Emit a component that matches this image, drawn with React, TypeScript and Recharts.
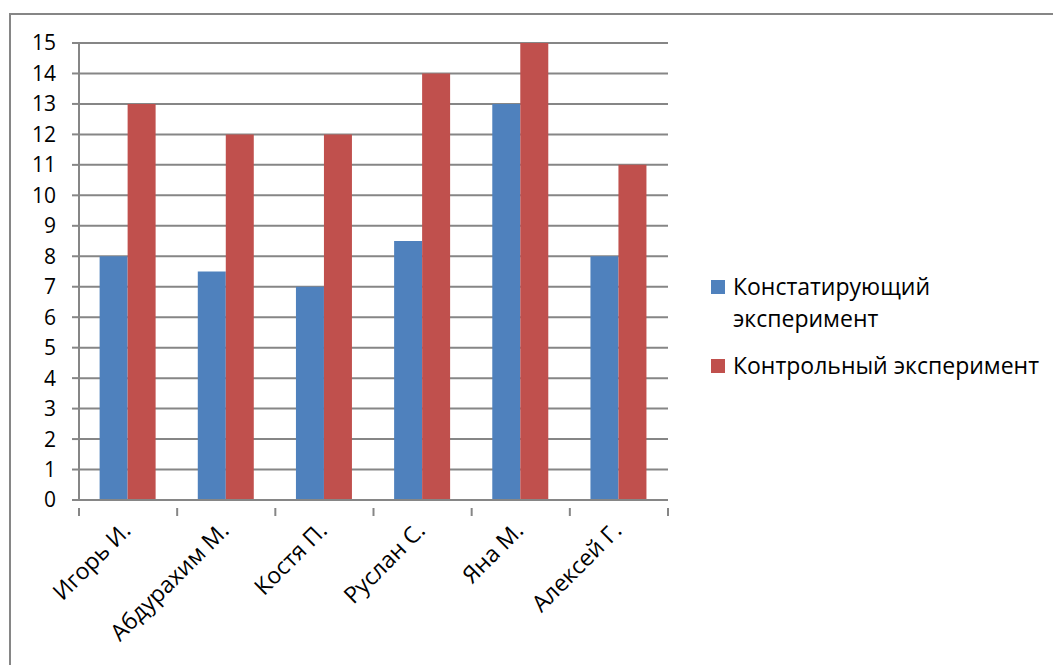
import { BarChart, Bar, XAxis, YAxis, CartesianGrid } from 'recharts';

const names = ['Игорь И.', 'Абдурахим М.', 'Костя П.', 'Руслан С.', 'Яна М.', 'Алексей Г.'];
const ascertaining = [8, 7.5, 7, 8.5, 13, 8];
const control = [13, 12, 12, 14, 15, 11];
const yTicks = [0, 1, 2, 3, 4, 5, 6, 7, 8, 9, 10, 11, 12, 13, 14, 15];

const seriesNames = ['Констатирующий эксперимент', 'Контрольный эксперимент'];
const colors = ['#4F81BD', '#C0504D'];

const data = names.map((name, i) => ({
  name,
  ascertaining: ascertaining[i],
  control: control[i]
}));

const FONT = '"Open Sans", sans-serif';
const TICK_SIZE = 21;
const LABEL_SIZE = 23;
const AXIS = '#868686';
const CHART_W = 1042;
const CHART_H = 650;
const PLOT_LEFT = 68;
const PLOT_RIGHT = 657;
const BAND = (PLOT_RIGHT - PLOT_LEFT) / names.length;

// category labels sit at 45°, with Excel-style ticks between categories
function CategoryTick(props: any) {
  const { x, y, payload, index } = props;
  const tx = x + 4;
  const ty = y + 24;
  return (
    <g>
      <line x1={x - BAND / 2} y1={y} x2={x - BAND / 2} y2={y + 8} stroke={AXIS} strokeWidth={2} />
      {index === names.length - 1 && (
        <line x1={x + BAND / 2} y1={y} x2={x + BAND / 2} y2={y + 8} stroke={AXIS} strokeWidth={2} />
      )}
      <text
        x={tx}
        y={ty}
        transform={`rotate(-45, ${tx}, ${ty})`}
        textAnchor="end"
        fontFamily={FONT}
        fontSize={LABEL_SIZE}
        fill="#000"
      >
        {payload.value}
      </text>
    </g>
  );
}

function LegendBox() {
  const swatch = (c: string) => (
    <span style={{ width: 14, height: 14, background: c, marginTop: 10, marginRight: 8, flex: 'none' }} />
  );
  return (
    <div
      style={{
        position: 'absolute',
        left: 700,
        top: 255,
        fontFamily: FONT,
        fontSize: LABEL_SIZE,
        color: '#000',
        lineHeight: '32px'
      }}
    >
      <div style={{ display: 'flex', alignItems: 'flex-start' }}>
        {swatch(colors[0])}
        <span>Констатирующий<br />эксперимент</span>
      </div>
      <div style={{ display: 'flex', alignItems: 'flex-start', marginTop: 15 }}>
        {swatch(colors[1])}
        <span style={{ whiteSpace: 'nowrap' }}>{seriesNames[1]}</span>
      </div>
    </div>
  );
}

export default function App() {
  return (
    <div
      style={{
        position: 'absolute',
        left: 9,
        top: 13,
        width: 1044,
        height: 652,
        borderLeft: `2px solid ${AXIS}`,
        borderTop: `2px solid ${AXIS}`,
        background: '#fff'
      }}
    >
      <BarChart
        width={CHART_W}
        height={CHART_H}
        data={data}
        margin={{ top: 28, right: CHART_W - PLOT_RIGHT, bottom: 15, left: 0 }}
        barCategoryGap="21%"
        barGap={0}
      >
        <CartesianGrid vertical={false} stroke={AXIS} strokeWidth={2} />
        <XAxis
          dataKey="name"
          interval={0}
          height={150}
          axisLine={{ stroke: AXIS, strokeWidth: 2 }}
          tickLine={false}
          tick={<CategoryTick />}
        />
        <YAxis
          domain={[0, 15]}
          ticks={yTicks}
          interval={0}
          width={PLOT_LEFT}
          tickSize={7}
          tickMargin={16}
          axisLine={{ stroke: AXIS, strokeWidth: 2 }}
          tickLine={{ stroke: AXIS, strokeWidth: 2 }}
          tick={{ fontFamily: FONT, fontSize: TICK_SIZE, fill: '#000' }}
        />
        <Bar dataKey="ascertaining" name={seriesNames[0]} fill={colors[0]} isAnimationActive={false} />
        <Bar dataKey="control" name={seriesNames[1]} fill={colors[1]} isAnimationActive={false} />
      </BarChart>
      <LegendBox />
    </div>
  );
}
